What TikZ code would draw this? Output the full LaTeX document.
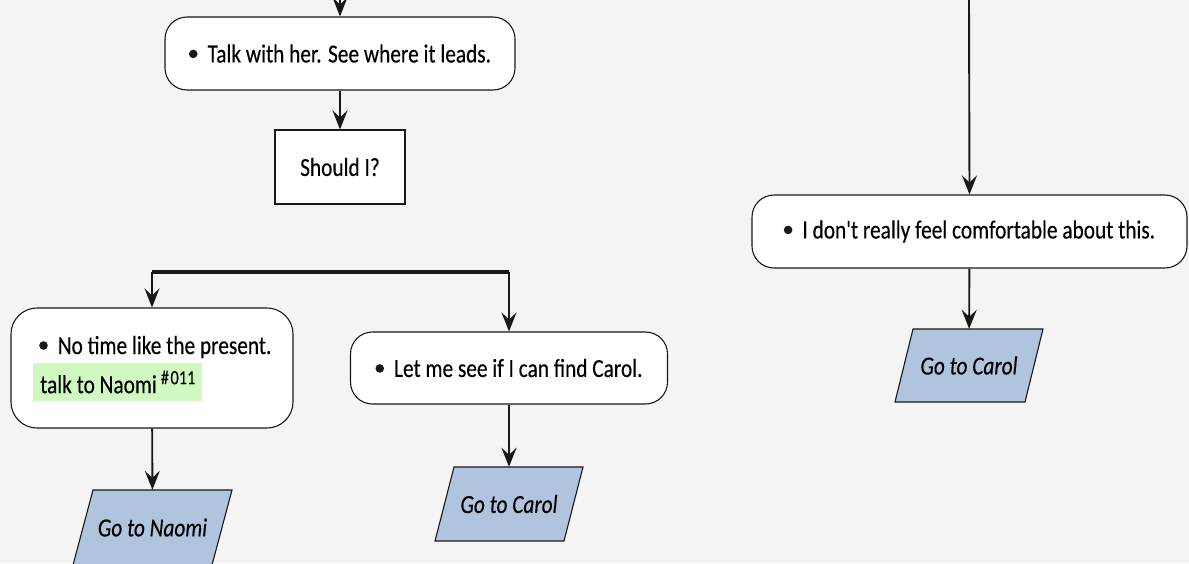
\documentclass[tikz,border=0pt]{standalone}
\usepackage{fontspec}
\newfontfamily\mf{Carlito}[FakeStretch=0.82,FakeBold=0.3]
\usetikzlibrary{arrows.meta}
\definecolor{bgc}{HTML}{F4F4F4}
\definecolor{lnc}{HTML}{181818}
\definecolor{parc}{HTML}{B0C4DE}
\definecolor{hlc}{HTML}{D2F8C2}
\newcommand{\bdot}{\tikz[baseline={(0,-8.5pt)}]\fill[lnc] (0,0) circle (4.3pt);}
\tikzset{
  box/.style={draw=lnc, fill=white, line width=1.1pt, rounded corners=22pt, inner sep=0pt},
  sq/.style={draw=lnc, fill=white, line width=1.1pt, inner sep=0pt},
  parshape/.style={draw=lnc, fill=parc, line width=1.1pt, line join=miter},
  ptext/.style={inner sep=0pt, font=\mf\fontsize{26}{29}\selectfont\itshape},
  conn/.style={draw=lnc, line width=1.9pt, -{Stealth[length=19pt,width=15pt,inset=7pt]}},
  bar/.style={draw=lnc, line width=3.5pt},
  hl/.style={fill=hlc, inner xsep=7pt, inner ysep=0pt, minimum height=38pt, anchor=west},
  txt/.style={inner sep=0pt, anchor=base west}
}
\begin{document}
\begin{tikzpicture}[x=1pt,y=-1pt,font=\mf\fontsize{26}{29}\selectfont]
\fill[bgc] (0,0) rectangle (1189,563);
\useasboundingbox (0,0) rectangle (1189,563);
% left column
\coordinate (top1) at (340,0);
\node[box, minimum width=350pt, minimum height=73pt] (b1) at (340,53.5)
  {\bdot\hspace{10pt}Talk with her. See where it leads.};
\node[sq, minimum width=130pt, minimum height=74pt] (b2) at (340,167) {Should I?};
\coordinate (L) at (152,272);
\coordinate (R) at (509,272);
\draw[bar] (L) -- (R);
\node[box, rounded corners=26pt, minimum width=282pt, minimum height=120pt] (b3) at (152,368) {};
\node[txt] (t3a) at (39,354) {\bdot\hspace{10pt}No time like the present.};
\node[hl] (t3b) at (33,382) {talk to Naomi\hspace{4pt}\raisebox{9pt}{\fontsize{20}{20}\selectfont\#\hspace{1.5pt}011}};
\node[box, minimum width=317pt, minimum height=72pt] (b4) at (509,368)
  {\bdot\hspace{10pt}Let me see if I can find Carol.};
\draw[parshape] (93,490) -- (232,490) -- (212,565) -- (73,565) -- cycle;
\node[ptext, minimum width=139pt, minimum height=75pt] (p1) at (152.5,527.5) {Go to Naomi};
\draw[parshape] (454,467) -- (583,467) -- (564,541) -- (435,541) -- cycle;
\node[ptext, minimum width=129pt, minimum height=74pt] (p2) at (509,504) {Go to Carol};
% right column
\coordinate (top2) at (969,0);
\node[box, minimum width=435pt, minimum height=73pt] (b5) at (969.5,231.5)
  {\bdot\hspace{10pt}I don't really feel comfortable about this.};
\draw[parshape] (913,329) -- (1043,329) -- (1025,402) -- (895,402) -- cycle;
\node[ptext, minimum width=130pt, minimum height=73pt] (p3) at (969,365.5) {Go to Carol};
% connectors
\draw[conn] (top1) -- (b1.north);
\draw[conn] (b1) -- (b2);
\draw[conn] (L) -- (b3.north);
\draw[conn] (R) -- (b4.north);
\draw[conn] (b3) -- (p1);
\draw[conn] (b4) -- (p2);
\draw[conn] (top2) -- (b5.north);
\draw[conn] (b5) -- (p3);
\end{tikzpicture}
\end{document}
